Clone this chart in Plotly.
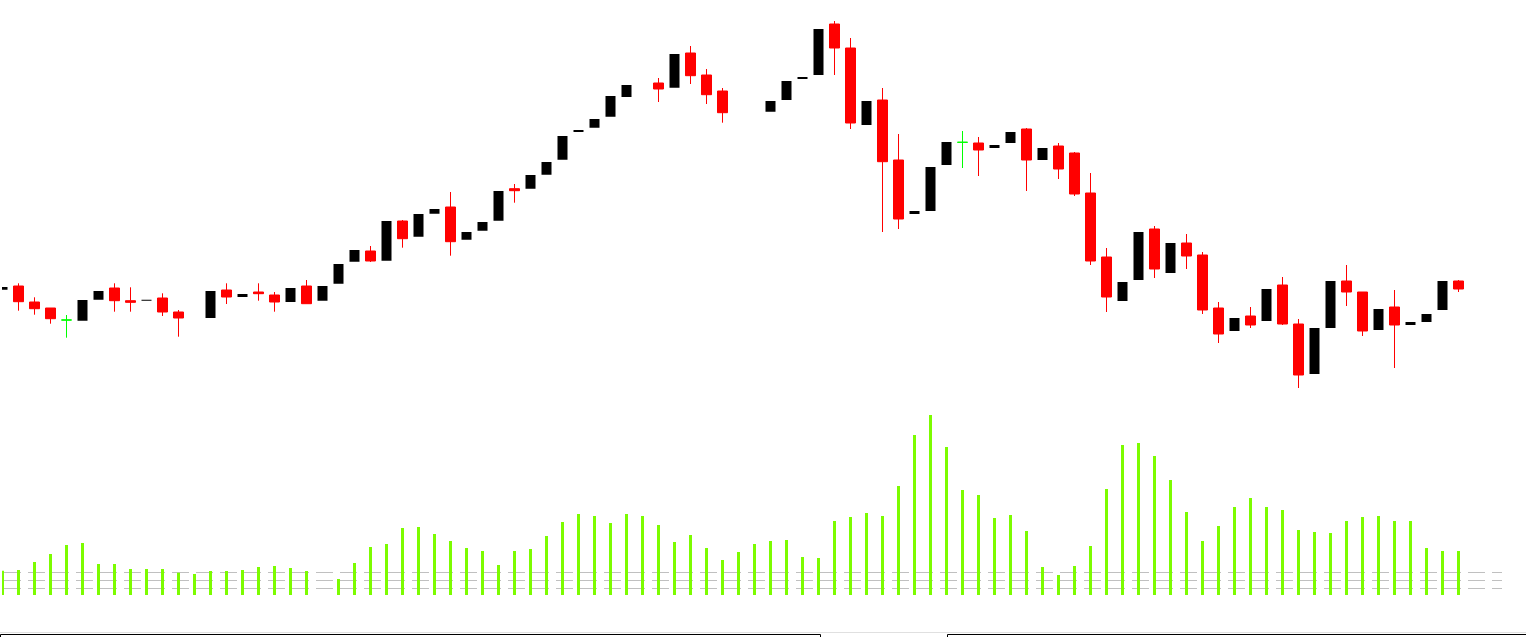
import plotly.graph_objects as go

# ---- data (index of each trading slot) ----
slots = list(range(92))

open_ = [210.3, 214, 198, 192, 180, 179.3, 200.3, 212, 199.3, 199.3,
         202, 188, None, 182, 210, 203, 208, 205, 198, 214,
         199.3, 216.3, 238.3, 249, 239.3, 279, 263.3, 286.3, 293, 260.3,
         269.3, 279.3, 311.3, 311.3, 325.3, 340.3, 368, 372.3, 383.3, 403,
         None, 417, 412.3, 447, 425, 409, None, None, 388.3, 400,
         421, 425, 476, 452, 375, 400, 340, 286, 289, 335,
         357.7, 357, 352, 357, 371, 340, 354, 347, 307, 243,
         199, 220, 271, 227, 257, 245, 192, 169, 184, 179,
         215, 176, 126, 172, 219, 208, 170, 193, 175, 178,
         190, 219]
high = [213, 216.7, 202.7, 192, 185, 200, 209, 216.7, 212.7, 200.3,
        206.7, 190, None, 209, 216.7, 206, 216.7, 208, 212, 220,
        214, 236, 250, 254, 279, 280, 286, 291, 308, 268,
        278, 309, 316, 325, 338, 364, 370, 381, 404, 415,
        None, 422, 446, 454, 431, 412, None, None, 399, 419,
        423, 471, 479, 462, 399, 412, 366, 289, 333, 358,
        369, 363, 355, 368, 372, 352, 357, 348, 327, 252,
        218, 268, 274, 257, 266, 248, 198, 182, 193, 211,
        223, 181, 172, 219, 235, 208, 191, 210, 178, 186,
        219, 220]
low = [210.3, 189.3, 185.3, 176.3, 162.3, 179.3, 200.3, 188.3, 188.3, 199.3,
       184, 163.3, None, 182, 196, 203, 199.3, 188.3, 198, 196.3,
       199.3, 216.3, 238.3, 238, 239.3, 252.3, 263.3, 286.3, 244.3, 260.3,
       269.3, 279.3, 297.3, 311.3, 325.3, 340.3, 368, 372.3, 383.3, 403,
       None, 398, 412.3, 416, 396, 377.3, None, None, 388.3, 400,
       421, 425, 425, 371, 375, 268, 271, 286, 289, 335,
       332, 324, 352, 357, 309, 340, 321, 304, 235, 188,
       199, 220, 222, 227, 231, 186, 157, 169, 172, 179,
       175, 112, 126, 172, 194, 164, 170, 132, 175, 178,
       190, 208]
close = [213, 198.3, 191.3, 181.3, 180, 200, 209, 199.3, 197.7, 200.3,
         188, 182, None, 209, 203, 206, 206.3, 198, 212, 196.3,
         214, 236, 250, 239, 279, 261.3, 286, 291, 258.3, 268,
         278, 309, 309.3, 325, 338, 364, 370, 381, 404, 415,
         None, 411, 446, 424.3, 405.3, 387.3, None, None, 399, 419,
         423, 471, 452, 377, 399, 338.3, 281, 289, 333, 358,
         357.7, 350, 355, 368, 340, 352, 331, 306, 239, 203,
         218, 268, 231, 257, 244, 190, 166, 182, 175, 211,
         176, 125, 172, 219, 208, 169, 191, 175, 178, 186,
         219, 211]
volume = [24.3, 25, 33, 41, 50, 52, 31, 31, 26, 26,
          26, 22.3, 21, 24, 24, 25, 28, 29, 27, 24,
          None, 16, 32, 48, 51, 67, 68, 61, 54, 47,
          44, 30, 44, 46, 59, 73, 81, 79, 72, 81,
          79, 70, 53, 60, 47, 35, 43, 51, 54, 55,
          38, 37, 74, 78, 82, 79, 109, 160, 180, 148,
          105, 100, 77, 80, 64, 28, 20, 29, 49, 106,
          150, 152, 139, 115, 83, 54, 69, 88, 97, 88,
          85, 65, 63, 62, 74, 78, 79, 74, 74, 47,
          44, 44]
volume_grid = [0, 7, 15, 23]


def pick(cond):
    idx = [i for i in slots if open_[i] is not None and cond(open_[i], close[i])]
    return dict(x=[slots[i] for i in idx],
                open=[open_[i] for i in idx],
                high=[high[i] for i in idx],
                low=[low[i] for i in idx],
                close=[close[i] for i in idx])


def style(color, width):
    s = dict(fillcolor=color, line=dict(color=color, width=width))
    return dict(increasing=s, decreasing=s)


fig = go.Figure()
fig.add_trace(go.Candlestick(**pick(lambda o, c: c > o), **style("#000000", 0),
                             whiskerwidth=0, hoverinfo="skip"))
fig.add_trace(go.Candlestick(**pick(lambda o, c: c < o), **style("#ff0000", 1),
                             whiskerwidth=0, hoverinfo="skip"))
fig.add_trace(go.Candlestick(**pick(lambda o, c: c == o), **style("#00ff00", 1),
                             whiskerwidth=0, hoverinfo="skip"))
fig.add_trace(go.Bar(x=slots, y=volume, yaxis="y2", width=3 / 16,
                     marker=dict(color="#7cfc00", line=dict(width=0)),
                     hoverinfo="skip"))

W, H = 1526, 637
ml, mr, mt, mb = 2, 24, 0, 41
pw, ph = W - ml - mr, H - mt - mb


def px_x(p):
    return (p - ml) / pw


def px_y(p):
    return (H - mb - p) / ph


shapes = [
    dict(type="line", xref="paper", yref="paper", x0=px_x(0), x1=px_x(W),
         y0=px_y(632.5), y1=px_y(632.5), line=dict(color="#e0e0e0", width=1)),
    dict(type="rect", xref="paper", yref="paper", x0=px_x(0.5), x1=px_x(820.5),
         y0=px_y(634.5), y1=px_y(650), line=dict(color="#000000", width=1)),
    dict(type="rect", xref="paper", yref="paper", x0=px_x(947.5), x1=px_x(1540),
         y0=px_y(634.5), y1=px_y(650), line=dict(color="#000000", width=1)),
]

fig.update_layout(
    width=W, height=H,
    margin=dict(l=ml, r=mr, t=mt, b=mb, pad=0),
    paper_bgcolor="#ffffff", plot_bgcolor="#ffffff",
    showlegend=False,
    boxgap=0.375, boxgroupgap=0,
    xaxis=dict(range=[-0.03125, -0.03125 + pw / 16], showgrid=False, zeroline=False,
               showticklabels=False, ticks="", showline=False, anchor="y2",
               rangeslider=dict(visible=False)),
    yaxis=dict(domain=[0.33, 1], range=[500 - 0.67 * ph, 500], showgrid=False,
               zeroline=False, showticklabels=False, ticks="", showline=False),
    yaxis2=dict(domain=[0, 0.32], range=[-1, 0.32 * ph - 1], showgrid=True,
                tickmode="array", tickvals=volume_grid, gridcolor="#c0c0c0", gridwidth=1,
                griddash="0px,2px,17px,5px", zeroline=False, showticklabels=False,
                ticks="", showline=False),
    shapes=shapes,
)

fig.write_html("out.html", config={"displayModeBar": False},
               post_script="document.body.style.margin='0';document.body.style.overflow='hidden';")
